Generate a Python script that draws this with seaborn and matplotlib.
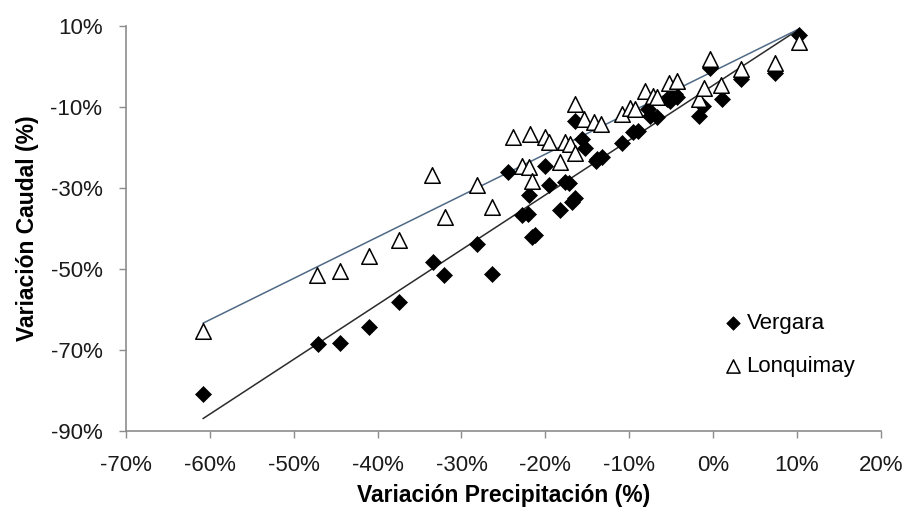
import matplotlib
matplotlib.use("Agg")
import matplotlib.pyplot as plt
import seaborn as sns
import pandas as pd
from matplotlib.ticker import PercentFormatter

# Vergara (precip change %, flow change %)
vergara_x = [-60.8, -47.1, -44.5, -41.0, -37.5, -33.4, -32.1, -28.1, -26.4, -24.4,
             -22.8, -22.1, -22.0, -21.6, -21.2, -20.0, -19.6, -18.2, -17.6, -17.2,
             -16.8, -16.4, -16.4, -15.6, -15.3, -14.0, -13.8, -13.2, -10.9, -9.5,
             -9.0, -7.7, -7.5, -6.7, -5.5, -5.1, -4.5, -4.3, -1.7, -1.2,
             -0.4, 1.1, 3.3, 7.4, 10.2]
vergara_y = [-80.9, -68.6, -68.2, -64.3, -58.1, -48.2, -51.6, -43.9, -51.3, -26.1,
             -36.8, -36.5, -31.8, -42.2, -41.6, -24.5, -29.4, -35.5, -28.6, -28.8,
             -33.4, -32.6, -13.5, -17.9, -20.2, -23.3, -22.8, -22.4, -19.0, -16.3,
             -16.0, -10.6, -12.2, -12.6, -8.1, -8.5, -6.9, -7.5, -12.2, -9.8,
             -0.4, -8.0, -3.2, -1.6, 7.8]

# Lonquimay
lonq_x = [-60.8, -47.2, -44.5, -41.0, -37.5, -33.5, -32.0, -28.1, -26.4, -23.8,
          -22.8, -22.0, -21.8, -21.6, -20.0, -19.6, -18.2, -17.7, -17.1, -16.4,
          -16.4, -15.4, -14.2, -13.4, -10.9, -9.9, -9.3, -8.1, -7.1, -6.7,
          -5.2, -4.3, -1.7, -1.1, -0.4, 1.0, 3.3, 7.4, 10.2]
lonq_y = [-65.3, -51.4, -50.6, -46.9, -42.8, -26.9, -37.1, -29.4, -34.7, -17.5,
          -24.5, -24.9, -16.7, -28.2, -17.5, -18.8, -23.7, -18.6, -19.2, -21.4,
          -9.4, -13.0, -13.8, -14.3, -11.8, -10.2, -10.6, -6.1, -7.3, -7.7,
          -4.2, -3.6, -8.0, -5.3, 1.8, -4.7, -0.8, 0.9, 5.9]

dfv = pd.DataFrame({'precip': vergara_x, 'caudal': vergara_y})
dfl = pd.DataFrame({'precip': lonq_x, 'caudal': lonq_y})

plt.rcParams['font.family'] = ['Liberation Sans', 'DejaVu Sans']
plt.rcParams['axes.unicode_minus'] = False

fig = plt.figure(figsize=(9.07, 5.21), dpi=100)
ax = fig.add_axes([0.139, 0.1727, 0.832, 0.778])

# trend lines
sns.regplot(data=dfv, x='precip', y='caudal', scatter=False, ci=None, truncate=True,
            line_kws={'color': '#2b2b2b', 'lw': 1.1}, ax=ax)
sns.regplot(data=dfl, x='precip', y='caudal', scatter=False, ci=None, truncate=True,
            line_kws={'color': '#4f6a86', 'lw': 1.1}, ax=ax)

sns.scatterplot(data=dfv, x='precip', y='caudal', marker='D', s=66, color='black',
                edgecolor='black', linewidth=0.5, label='Vergara', ax=ax, zorder=3)
sns.scatterplot(data=dfl, x='precip', y='caudal', marker='^', s=125, facecolor='white',
                edgecolor='black', linewidth=1.1, label='Lonquimay', ax=ax, zorder=4)

ax.set_xlim(-70, 20)
ax.set_ylim(-90, 10)
ax.set_xticks(range(-70, 21, 10))
ax.set_yticks(range(-90, 11, 20))
ax.xaxis.set_major_formatter(PercentFormatter(decimals=0))
ax.yaxis.set_major_formatter(PercentFormatter(decimals=0))

for s in ['top', 'right']:
    ax.spines[s].set_visible(False)
for s in ['left', 'bottom']:
    ax.spines[s].set_color('#8c8c8c')
    ax.spines[s].set_linewidth(1.2)
ax.tick_params(axis='both', direction='out', length=5, width=1.0, color='#8c8c8c',
               labelsize=16, labelcolor='#1a1a1a', pad=12)

ax.set_xlabel('Variación Precipitación (%)', fontsize=16.5, fontweight='bold', labelpad=6)
ax.set_ylabel('Variación Caudal (%)', fontsize=16.5, fontweight='bold', labelpad=8)

ax.legend(loc='upper left', bbox_to_anchor=(0.775, 0.313), frameon=False, fontsize=16,
          handletextpad=0.0, handlelength=1.2, labelspacing=1.0, borderaxespad=0,
          markerscale=0.85)

fig.savefig('out.png', dpi=100)
